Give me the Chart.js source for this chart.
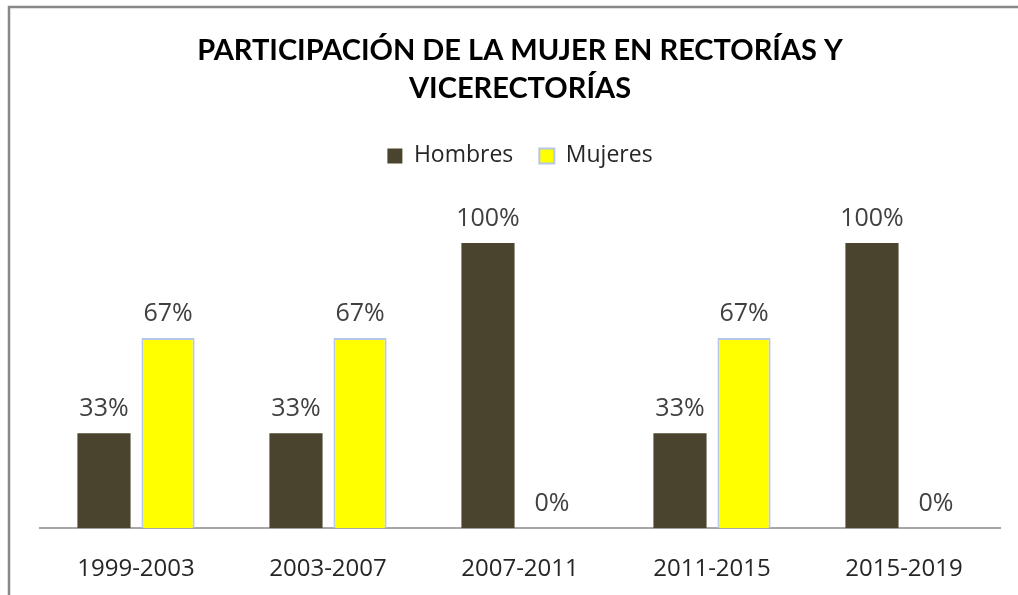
<!DOCTYPE html>
<html>
<head>
<meta charset="utf-8">
<script src="https://cdn.jsdelivr.net/npm/chart.js@4/dist/chart.umd.min.js"></script>
<style>
  html, body { margin: 0; padding: 0; background: #fff; }
  #wrap { width: 1018px; height: 595px; }
</style>
</head>
<body>
<div id="wrap"><canvas id="grafico" width="1018" height="595"></canvas></div>
<script>
// Datos
const periodos = ["1999-2003", "2003-2007", "2007-2011", "2011-2015", "2015-2019"];
const hombres = [33.3, 33.3, 100, 33.3, 100];
const mujeres = [66.7, 66.7, 0, 66.7, 0];

const tituloLineas = ["PARTICIPACIÓN DE LA MUJER EN RECTORÍAS Y", "VICERECTORÍAS"];

const fuente = "'Open Sans', Lato, sans-serif";

// marco gris del área del gráfico (arriba e izquierda)
const marcoPlugin = {
  id: "marco",
  beforeDraw(chart) {
    const ctx = chart.ctx;
    ctx.save();
    ctx.fillStyle = "#fff";
    ctx.fillRect(0, 0, chart.width, chart.height);
    ctx.strokeStyle = "#888888";
    ctx.lineWidth = 2.5;
    ctx.beginPath();
    ctx.moveTo(9, chart.height);
    ctx.lineTo(9, 7);
    ctx.lineTo(chart.width, 7);
    ctx.stroke();
    ctx.restore();
  }
};

// etiquetas de porcentaje encima de cada barra
const etiquetasPlugin = {
  id: "etiquetas",
  afterDatasetsDraw(chart) {
    const ctx = chart.ctx;
    ctx.save();
    ctx.font = "25px " + fuente;
    ctx.fillStyle = "#404040";
    ctx.textAlign = "center";
    ctx.textBaseline = "bottom";
    chart.data.datasets.forEach((ds, i) => {
      chart.getDatasetMeta(i).data.forEach((bar, j) => {
        ctx.fillText(Math.round(ds.data[j]) + "%", bar.x, bar.y - 12);
      });
    });
    ctx.restore();
  }
};

new Chart(document.getElementById("grafico").getContext("2d"), {
  type: "bar",
  data: {
    labels: periodos,
    datasets: [
      {
        label: "Hombres",
        data: hombres,
        backgroundColor: "#4a432d",
        borderColor: "#4a432d",
        borderWidth: 0,
        categoryPercentage: 0.667,
        barPercentage: 0.83
      },
      {
        label: "Mujeres",
        data: mujeres,
        backgroundColor: "#ffff00",
        borderColor: "#b4c7e7",
        borderWidth: 2,
        categoryPercentage: 0.667,
        barPercentage: 0.83
      }
    ]
  },
  options: {
    responsive: false,
    animation: false,
    layout: { padding: { left: 40, right: 18, top: 22, bottom: -8 } },
    plugins: {
      title: {
        display: true,
        text: tituloLineas,
        color: "#000",
        font: { family: "Lato, 'Open Sans', sans-serif", size: 29, weight: "bold", lineHeight: 1.3 },
        padding: { top: 10, bottom: 11 }
      },
      legend: {
        display: true,
        position: "top",
        labels: {
          color: "#262626",
          boxWidth: 15,
          boxHeight: 15,
          padding: 26,
          font: { family: fuente, size: 23 }
        }
      },
      tooltip: { enabled: false }
    },
    scales: {
      x: {
        grid: { display: false },
        border: { display: true, color: "#a6a6a6", width: 2 },
        ticks: {
          color: "#262626",
          padding: 19,
          font: { family: fuente, size: 24 }
        }
      },
      y: {
        display: false,
        min: 0,
        max: 123
      }
    }
  },
  plugins: [marcoPlugin, etiquetasPlugin]
});
</script>
</body>
</html>
